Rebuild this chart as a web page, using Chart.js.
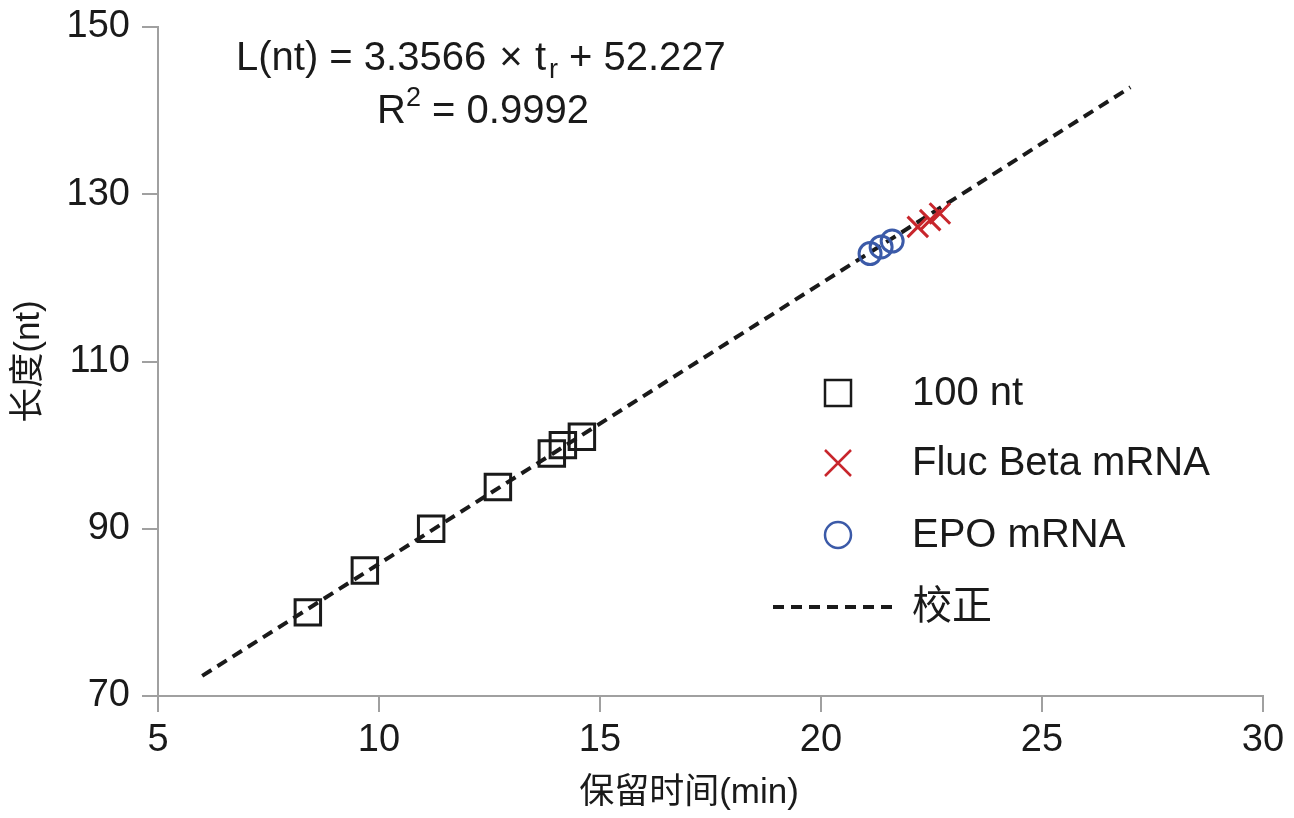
<!doctype html>
<html>
<head>
<meta charset="utf-8">
<title>保留时间-长度校正</title>
<script src="https://cdn.jsdelivr.net/npm/chart.js@4/dist/chart.umd.min.js"></script>
<style>
  html, body { margin: 0; padding: 0; background: #fff; }
  #wrap { width: 1294px; height: 818px; }
</style>
</head>
<body>
<div id="wrap"><canvas id="canvas1" width="1294" height="818"></canvas></div>
<script>
// 100 nt 标准品 (保留时间, 长度)
var ladderX = [8.39, 9.68, 11.18, 12.69, 13.91, 14.16, 14.59];
var ladderY = [80, 85, 90, 95, 99, 100, 101];
// Fluc Beta mRNA
var flucX = [22.19, 22.47, 22.69];
var flucY = [126.1, 126.9, 127.7];
// EPO mRNA
var epoX = [21.11, 21.36, 21.61];
var epoY = [122.9, 123.7, 124.4];
// 校正线两端
var fitX = [6, 27];
var fitY = [72.4, 142.8];

var xTicks = [5, 10, 15, 20, 25, 30];
var yTicks = [70, 90, 110, 130, 150];

var legendLabels = ['100 nt', 'Fluc Beta mRNA', 'EPO mRNA', '校正'];
var xTitle = '保留时间(min)';
var yTitle = '长度(nt)';

var FONT = "'Liberation Sans', 'Noto Sans CJK SC', Arial, sans-serif";
var INK = '#1a1a1a';
var RED = '#c8262c';
var BLUE = '#3b5aa8';
var AXIS = '#a0a0a0';

function pts(xs, ys) {
    var out = [];
    for (var i = 0; i < xs.length; i++) out.push({x: xs[i], y: ys[i]});
    return out;
}

// 公式、图例、x轴标题画在画布上
var annotations = {
    id: 'annotations',
    afterDraw: function(chart) {
        var ctx = chart.ctx;
        ctx.save();
        ctx.fillStyle = INK;
        ctx.textBaseline = 'alphabetic';
        ctx.textAlign = 'left';

        var big = '40px ' + FONT, small = '27px ' + FONT;
        // 公式第一行
        ctx.font = big;
        ctx.fillText('L(nt) = 3.3566', 236, 70);
        ctx.textAlign = 'center';
        ctx.fillText('\u00d7', 511, 70);
        ctx.textAlign = 'left';
        ctx.fillText('t', 535, 70);
        ctx.font = small;
        ctx.fillText('r', 549, 78);
        ctx.font = big;
        ctx.fillText('+ 52.227', 569, 70);

        // 公式第二行 (居中)
        ctx.font = big;
        var a = ctx.measureText('R').width;
        var c = ctx.measureText(' = 0.9992').width;
        ctx.font = small;
        var b = ctx.measureText('2').width;
        var x = 483 - (a + b + c) / 2;
        ctx.font = big;
        ctx.fillText('R', x, 123);
        ctx.font = small;
        ctx.fillText('2', x + a, 106);
        ctx.font = big;
        ctx.fillText(' = 0.9992', x + a + b, 123);

        // x轴标题
        ctx.font = '35px ' + FONT;
        ctx.textAlign = 'center';
        ctx.textBaseline = 'middle';
        ctx.fillText(xTitle, 689, 793);

        // 图例
        var rows = [393, 463, 535, 607];
        var mx = 838, tx = 912;
        ctx.lineWidth = 2.5;

        ctx.strokeStyle = INK;
        ctx.strokeRect(mx - 13, rows[0] - 13, 26, 26);

        ctx.strokeStyle = RED;
        ctx.beginPath();
        ctx.moveTo(mx - 13, rows[1] - 13); ctx.lineTo(mx + 13, rows[1] + 13);
        ctx.moveTo(mx - 13, rows[1] + 13); ctx.lineTo(mx + 13, rows[1] - 13);
        ctx.stroke();

        ctx.strokeStyle = BLUE;
        ctx.beginPath();
        ctx.arc(mx, rows[2], 13, 0, Math.PI * 2);
        ctx.stroke();

        ctx.strokeStyle = INK;
        ctx.lineWidth = 4;
        ctx.setLineDash([11, 7]);
        ctx.beginPath();
        ctx.moveTo(773, rows[3]); ctx.lineTo(897, rows[3]);
        ctx.stroke();
        ctx.setLineDash([]);

        ctx.font = '40px ' + FONT;
        ctx.textAlign = 'left';
        ctx.textBaseline = 'middle';
        for (var i = 0; i < legendLabels.length; i++) {
            ctx.fillText(legendLabels[i], tx, rows[i] + 1);
        }
        ctx.restore();
    }
};

window.onload = function() {
    var ctx1 = document.getElementById('canvas1').getContext('2d');
    window.myChart = new Chart(ctx1, {
        type: 'scatter',
        data: {
            datasets: [
                {
                    label: legendLabels[3],
                    type: 'line',
                    data: pts(fitX, fitY),
                    borderColor: INK,
                    borderWidth: 4,
                    borderDash: [11, 7],
                    pointRadius: 0,
                    fill: false,
                    order: 4
                },
                {
                    label: legendLabels[0],
                    data: pts(ladderX, ladderY),
                    pointStyle: 'rect',
                    pointRadius: 18,
                    pointHoverRadius: 18,
                    borderWidth: 3,
                    borderColor: INK,
                    backgroundColor: 'rgba(0,0,0,0)',
                    order: 1
                },
                {
                    label: legendLabels[1],
                    data: pts(flucX, flucY),
                    pointStyle: 'crossRot',
                    pointRadius: 14.5,
                    pointHoverRadius: 14.5,
                    borderWidth: 3,
                    borderColor: RED,
                    backgroundColor: RED,
                    order: 2
                },
                {
                    label: legendLabels[2],
                    data: pts(epoX, epoY),
                    pointStyle: 'circle',
                    pointRadius: 11,
                    pointHoverRadius: 11,
                    borderWidth: 3,
                    borderColor: BLUE,
                    backgroundColor: 'rgba(0,0,0,0)',
                    order: 3
                }
            ]
        },
        options: {
            responsive: false,
            animation: false,
            devicePixelRatio: 1,
            layout: { padding: { top: 27, right: 31, left: 0, bottom: 0 } },
            plugins: {
                legend: { display: false },
                tooltip: { enabled: false }
            },
            scales: {
                x: {
                    type: 'linear',
                    min: xTicks[0],
                    max: xTicks[xTicks.length - 1],
                    afterBuildTicks: function(s) { s.ticks = xTicks.map(function(v) { return {value: v}; }); },
                    afterFit: function(s) { s.height = 122; s.paddingLeft = 0; s.paddingRight = 0; },
                    ticks: { font: { size: 38, family: FONT }, color: INK, padding: 6, maxRotation: 0 },
                    grid: { drawOnChartArea: false, tickLength: 16, color: AXIS, lineWidth: 2 },
                    border: { color: AXIS, width: 2 },
                    title: { display: false }
                },
                y: {
                    type: 'linear',
                    min: yTicks[0],
                    max: yTicks[yTicks.length - 1],
                    afterBuildTicks: function(s) { s.ticks = yTicks.map(function(v) { return {value: v}; }); },
                    afterFit: function(s) { s.width = 158; s.paddingTop = 0; s.paddingBottom = 0; },
                    ticks: { font: { size: 38, family: FONT }, color: INK, padding: 12 },
                    grid: { drawOnChartArea: false, tickLength: 16, color: AXIS, lineWidth: 2 },
                    border: { color: AXIS, width: 2 },
                    title: { display: true, text: yTitle, font: { size: 35, family: FONT }, color: INK, padding: { top: 8, bottom: 0 } }
                }
            }
        },
        plugins: [annotations]
    });
};
</script>
</body>
</html>
